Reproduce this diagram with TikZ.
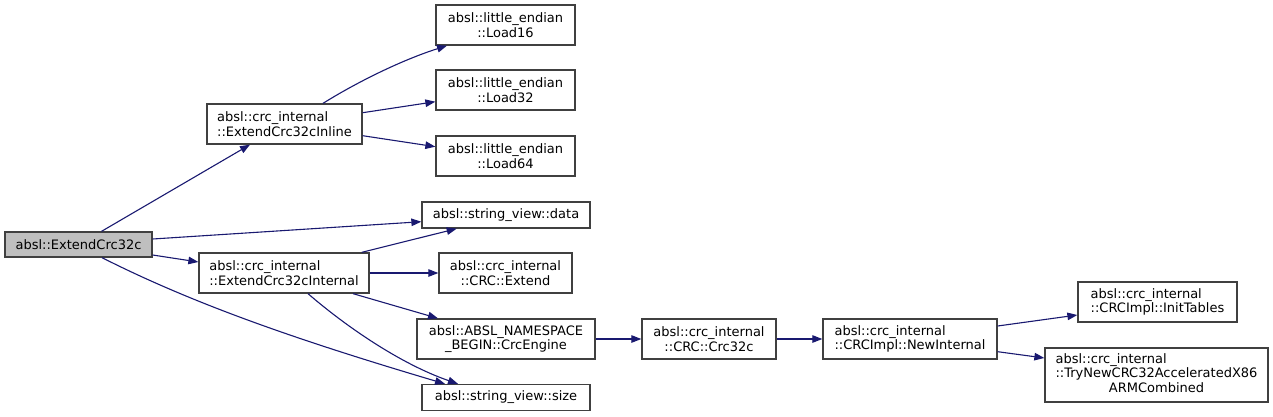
\documentclass[tikz,border=0pt]{standalone}
\usepackage{fontspec}
\setmainfont{DejaVu Sans}
\usetikzlibrary{arrows.meta}
\definecolor{edgeblue}{HTML}{191970}
\definecolor{boxline}{HTML}{404040}
\definecolor{rootfill}{HTML}{BFBFBF}
\begin{document}
\begin{tikzpicture}[x=1pt,y=-1pt,
  box/.style={draw=boxline, line width=1.3pt, fill=white, inner sep=0pt, align=center,
    font=\fontsize{13}{14.5}\selectfont},
  lbox/.style={box, align=left},
  edge/.style={draw=edgeblue, line width=1.1pt, -{Triangle[length=10pt,width=7.5pt]}}]
\useasboundingbox (0,0) rectangle (1273,417);
% nodes
\node[box, fill=rootfill, minimum width=147pt, minimum height=25pt] (root) at (78.5,244.5) {absl::ExtendCrc32c};
\node[lbox, minimum width=155pt, minimum height=40pt] (inline) at (284.5,124) {absl::crc\_internal\\::ExtendCrc32cInline};
\node[box, minimum width=139pt, minimum height=40pt] (l16) at (505.5,25) {absl::little\_endian\\::Load16};
\node[box, minimum width=139pt, minimum height=40pt] (l32) at (505.5,90) {absl::little\_endian\\::Load32};
\node[box, minimum width=139pt, minimum height=40pt] (l64) at (505.5,156) {absl::little\_endian\\::Load64};
\node[box, minimum width=168pt, minimum height=26pt] (data) at (506,215) {absl::string\_view::data};
\node[lbox, minimum width=170pt, minimum height=40pt] (internal) at (284,273) {absl::crc\_internal\\::ExtendCrc32cInternal};
\node[box, minimum width=133pt, minimum height=40pt] (extend) at (505.5,273) {absl::crc\_internal\\::CRC::Extend};
\node[box, minimum width=178pt, minimum height=40pt] (engine) at (506,339) {absl::ABSL\_NAMESPACE\\\_BEGIN::CrcEngine};
\node[box, minimum width=168pt, minimum height=26pt] (size) at (506,397.5) {absl::string\_view::size};
\node[box, minimum width=134pt, minimum height=40pt] (crc32c) at (709,339) {absl::crc\_internal\\::CRC::Crc32c};
\node[lbox, minimum width=174pt, minimum height=40pt] (newint) at (910,339) {absl::crc\_internal\\::CRCImpl::NewInternal};
\node[lbox, minimum width=159pt, minimum height=40pt] (init) at (1157.5,302) {absl::crc\_internal\\::CRCImpl::InitTables};
\node[box, minimum width=223pt, minimum height=54pt] (trynew) at (1156.5,375) {\begin{tabular}{@{}l@{}}absl::crc\_internal\\::TryNewCRC32AcceleratedX86\\\multicolumn{1}{@{}c@{}}{ARMCombined}\end{tabular}};
% edges
\draw[edge] ([xshift=23pt]root.north) -- ([xshift=-34.5pt]inline.south);
\draw[edge] ([yshift=5.5pt]root.east) -- ([yshift=-6.7pt]data.west);
\draw[edge] ([yshift=-10.5pt]root.east) -- ([yshift=11pt]internal.west);
\draw[edge] ([xshift=23.5pt]root.south) .. controls +(93,47) and +(-145,-43) .. ([xshift=-61pt]size.north);
\draw[edge] ([xshift=38.5pt]inline.north) .. controls +(32,-20) and +(-47,15) .. ([xshift=-58.5pt]l16.south);
\draw[edge] ([yshift=11.3pt]inline.east) -- ([yshift=-11.7pt]l32.west);
\draw[edge] ([yshift=-11.7pt]inline.east) -- ([yshift=9.3pt]l64.west);
\draw[edge] ([xshift=77.7pt]internal.north) -- ([xshift=-49.3pt]data.south);
\draw[edge] (internal.east) -- (extend.west);
\draw[edge] ([xshift=69pt]internal.south) -- ([xshift=-68pt]engine.north);
\draw[edge] ([xshift=24pt]internal.south) .. controls +(37,32) and +(-58,-20) .. ([xshift=-48pt]size.north);
\draw[edge] (engine.east) -- (crc32c.west);
\draw[edge] (crc32c.east) -- (newint.west);
\draw[edge] ([yshift=13pt]newint.east) -- ([yshift=-13pt]init.west);
\draw[edge] ([yshift=-12.7pt]newint.east) -- ([yshift=17pt]trynew.west);
\end{tikzpicture}
\end{document}
